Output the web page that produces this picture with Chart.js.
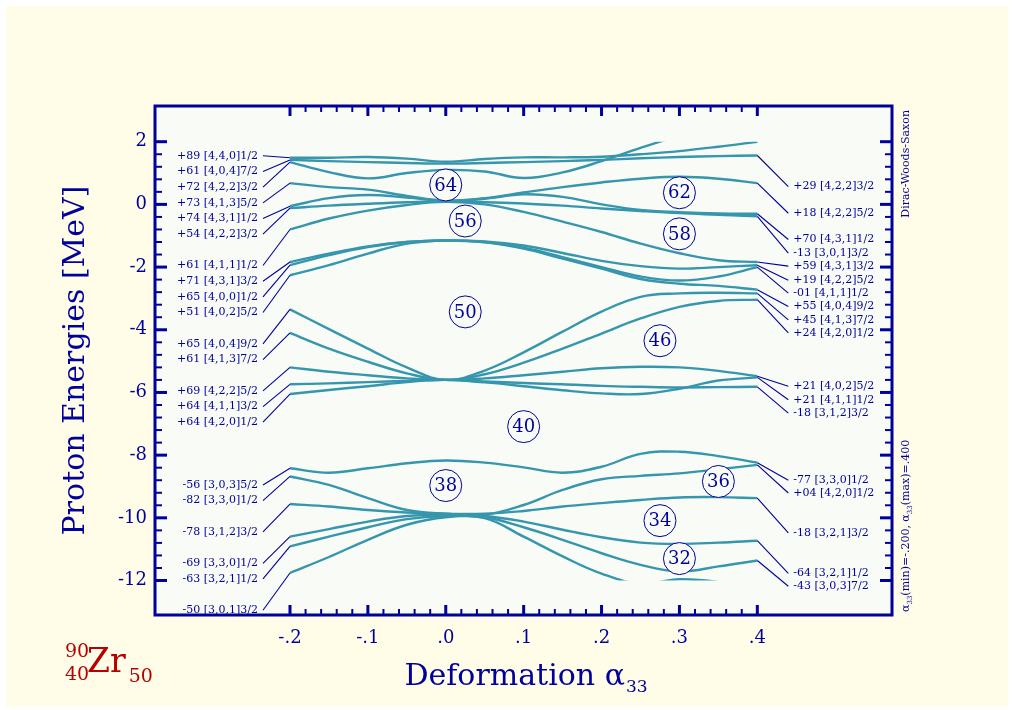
<!DOCTYPE html>
<html>
<head>
<meta charset="utf-8">
<script src="https://cdn.jsdelivr.net/npm/chart.js@4.4.1/dist/chart.umd.min.js"></script>
<style>
html,body{margin:0;padding:0;background:#ffffff;}
canvas{display:block;}
</style>
</head>
<body>
<canvas id="c" width="1012" height="710"></canvas>
<script>
// ---------------- data ----------------
const alpha = [-0.2,-0.15,-0.1,-0.05,0,0.05,0.1,0.15,0.2,0.25,0.3,0.35,0.4];

const xTickValues = [-0.2,-0.1,0,0.1,0.2,0.3,0.4];
const xTickLabels = ['-.2','-.1','.0','.1','.2','.3','.4'];
const yTickValues = [2,0,-2,-4,-6,-8,-10,-12];
const yTickLabels = ['2','0','-2','-4','-6','-8','-10','-12'];

// single-particle proton levels (MeV) at each alpha33
const lvT1  = [1.49,1.49,1.51,1.46,1.36,1.45,1.50,1.50,1.52,1.60,1.70,1.84,2.00];
const lvT2  = [1.42,1.38,1.35,1.32,1.30,1.32,1.35,1.38,1.42,1.47,1.51,1.54,1.56];
const lvT3  = [1.35,1.03,0.83,1.00,1.10,1.05,0.84,1.02,1.38,1.80,2.20,2.60,3.00];
const lvL4  = [0.68,0.55,0.47,0.27,0.12,0.20,0.38,0.55,0.70,0.82,0.88,0.82,0.68];
const lvL5  = [-0.06,0.20,0.30,0.22,0.12,0.18,0.32,0.24,0.00,-0.18,-0.25,-0.29,-0.30];
const lvL6  = [-0.12,-0.04,0.02,0.07,0.10,0.07,0.03,-0.04,-0.13,-0.21,-0.28,-0.33,-0.38];
const lvL7  = [-0.80,-0.45,-0.20,-0.02,0.08,0.00,-0.24,-0.55,-0.88,-1.25,-1.56,-1.78,-1.84];
const lvL8  = [-1.84,-1.57,-1.34,-1.20,-1.15,-1.18,-1.31,-1.55,-1.80,-1.97,-2.05,-2.00,-1.94];
const lvL9  = [-1.94,-1.62,-1.36,-1.20,-1.15,-1.20,-1.38,-1.68,-2.00,-2.30,-2.43,-2.30,-2.00];
const lvL10 = [-2.26,-1.94,-1.57,-1.25,-1.15,-1.21,-1.41,-1.73,-2.05,-2.38,-2.53,-2.60,-2.72];
const lvL11 = [-3.35,-3.98,-4.60,-5.20,-5.60,-5.30,-4.72,-4.06,-3.42,-2.95,-2.84,-2.82,-2.84];
const lvL12 = [-4.10,-4.60,-5.02,-5.39,-5.60,-5.42,-5.05,-4.60,-4.12,-3.64,-3.27,-3.08,-3.04];
const lvL13 = [-5.20,-5.34,-5.45,-5.55,-5.60,-5.55,-5.45,-5.34,-5.23,-5.18,-5.20,-5.31,-5.48];
const lvL14 = [-5.74,-5.71,-5.67,-5.63,-5.60,-5.65,-5.70,-5.74,-5.79,-5.82,-5.84,-5.83,-5.82];
const lvL15 = [-6.05,-5.92,-5.80,-5.67,-5.60,-5.68,-5.80,-5.93,-6.03,-6.05,-5.88,-5.62,-5.52];
const lvA   = [-8.42,-8.56,-8.42,-8.26,-8.17,-8.24,-8.39,-8.56,-8.37,-7.96,-7.89,-8.03,-8.24];
const lvB   = [-8.68,-8.95,-9.37,-9.75,-9.87,-9.90,-9.59,-9.11,-8.77,-8.66,-8.58,-8.45,-8.31];
const lvC   = [-9.56,-9.64,-9.75,-9.83,-9.87,-9.87,-9.78,-9.64,-9.53,-9.43,-9.35,-9.34,-9.37];
const lvD   = [-10.60,-10.36,-10.12,-9.94,-9.90,-9.94,-10.12,-10.38,-10.62,-10.79,-10.83,-10.79,-10.73];
const lvE   = [-10.91,-10.60,-10.30,-10.04,-9.94,-9.98,-10.30,-10.70,-11.13,-11.50,-11.71,-11.55,-11.36];
const lvF   = [-11.76,-11.25,-10.70,-10.22,-9.98,-10.01,-10.60,-11.23,-11.78,-12.10,-11.96,-12.05,-12.30];

const levels = [lvT1,lvT2,lvT3,lvL4,lvL5,lvL6,lvL7,lvL8,lvL9,lvL10,lvL11,lvL12,lvL13,lvL14,lvL15,lvA,lvB,lvC,lvD,lvE,lvF];

const leftTags = ['+89 [4,4,0]1/2','+61 [4,0,4]7/2','+72 [4,2,2]3/2','+73 [4,1,3]5/2','+74 [4,3,1]1/2','+54 [4,2,2]3/2',
  '+61 [4,1,1]1/2','+71 [4,3,1]3/2','+65 [4,0,0]1/2','+51 [4,0,2]5/2','+65 [4,0,4]9/2','+61 [4,1,3]7/2',
  '+69 [4,2,2]5/2','+64 [4,1,1]3/2','+64 [4,2,0]1/2','-56 [3,0,3]5/2','-82 [3,3,0]1/2','-78 [3,1,2]3/2',
  '-69 [3,3,0]1/2','-63 [3,2,1]1/2','-50 [3,0,1]3/2'];
const rightTags = [null,'+29 [4,2,2]3/2',null,'+18 [4,2,2]5/2','+70 [4,3,1]1/2','-13 [3,0,1]3/2','+59 [4,3,1]3/2',
  '+19 [4,2,2]5/2','-01 [4,1,1]1/2','+55 [4,0,4]9/2','+45 [4,1,3]7/2','+24 [4,2,0]1/2','+21 [4,0,2]5/2',
  '-18 [3,1,2]3/2','+21 [4,1,1]1/2','-77 [3,3,0]1/2','+04 [4,2,0]1/2','-18 [3,2,1]3/2','-64 [3,2,1]1/2','-43 [3,0,3]7/2',null];
// energies (MeV) at which the level tags are written
const leftSlots = [1.55,1.05,0.55,0.05,-0.45,-0.95,-1.95,-2.45,-2.95,-3.45,-4.45,-4.95,-5.95,-6.45,-6.95,-8.95,-9.45,-10.45,-11.45,-11.95,-12.95];
const rightSlots = [null,0.567,null,-0.283,-1.12,-1.558,-1.97,-2.42,-2.833,-3.258,-3.683,-4.10,-5.80,-6.658,-6.233,-8.80,-9.208,-10.48,-11.77,-12.183,null];

const magicNumbers = ['64','56','62','58','50','46','40','38','36','34','32'];
const magicAlpha   = [0.0,0.025,0.30,0.30,0.025,0.275,0.10,0.0,0.35,0.275,0.30];
const magicEnergy  = [0.62,-0.53,0.37,-0.94,-3.43,-4.35,-7.09,-8.97,-8.84,-10.09,-11.30];

// ---------------- style ----------------
const NAVY = '#00009c';
const LINE = '#3596ad';
const RED = '#b80000';
const SERIF = '"DejaVu Serif", "Liberation Serif", serif';
const XMIN = -0.3733, XMAX = 0.5729, YMIN = -13.10, YMAX = 3.139;
const EMAX_DRAW = 2, EMIN_DRAW = -12;

const decor = {
  id: 'decor',
  beforeDraw(chart) {
    const c = chart.ctx, a = chart.chartArea;
    c.save();
    c.fillStyle = '#ffffff';
    c.fillRect(0, 0, chart.width, chart.height);
    c.fillStyle = '#fffde8';
    c.fillRect(6, 6, chart.width - 10, chart.height - 9);
    c.fillStyle = '#f9fcf6';
    c.fillRect(a.left, a.top, a.right - a.left, a.bottom - a.top);
    c.restore();
  },
  beforeDatasetsDraw(chart) {
    const c = chart.ctx, a = chart.chartArea, ys = chart.scales.y;
    const t = ys.getPixelForValue(EMAX_DRAW), b = ys.getPixelForValue(EMIN_DRAW);
    c.save();
    c.beginPath();
    c.rect(a.left, t, a.right - a.left, b - t);
    c.clip();
  },
  afterDatasetsDraw(chart) {
    const c = chart.ctx, a = chart.chartArea, xs = chart.scales.x, ys = chart.scales.y;
    c.restore();
    const xL = xs.getPixelForValue(alpha[0]);
    const xR = xs.getPixelForValue(alpha[alpha.length - 1]);
    c.save();
    // connectors + tags
    c.strokeStyle = NAVY; c.lineWidth = 1.1; c.fillStyle = NAVY;
    c.font = '11px ' + SERIF; c.textBaseline = 'middle';
    levels.forEach((lv, i) => {
      const y0 = ys.getPixelForValue(lv[0]);
      const ys0 = ys.getPixelForValue(leftSlots[i]);
      c.beginPath(); c.moveTo(xL - 27, ys0); c.lineTo(xL, y0); c.stroke();
      c.textAlign = 'right';
      c.fillText(leftTags[i], xL - 32, ys0);
      if (rightTags[i] !== null) {
        const y1 = ys.getPixelForValue(lv[lv.length - 1]);
        const ys1 = ys.getPixelForValue(rightSlots[i]);
        c.beginPath(); c.moveTo(xR, y1); c.lineTo(xR + 31, ys1); c.stroke();
        c.textAlign = 'left';
        c.fillText(rightTags[i], xR + 36, ys1);
      }
    });
    // magic numbers
    c.font = '18px ' + SERIF; c.textAlign = 'center'; c.textBaseline = 'middle';
    c.lineWidth = 1;
    magicNumbers.forEach((m, i) => {
      const px = xs.getPixelForValue(magicAlpha[i]), py = ys.getPixelForValue(magicEnergy[i]);
      c.beginPath(); c.arc(px, py, 16, 0, Math.PI * 2);
      c.fillStyle = '#f9fcf6'; c.fill();
      c.stroke();
      c.fillStyle = NAVY;
      c.fillText(m, px, py + 1);
    });
    // ticks
    c.strokeStyle = NAVY;
    for (let k = 0; k <= 35; k++) {
      const e = EMIN_DRAW + k * 0.4;
      const major = k % 5 === 0;
      const py = ys.getPixelForValue(e);
      c.lineWidth = major ? 3 : 2;
      const len = major ? 12 : 7;
      c.beginPath(); c.moveTo(a.left, py); c.lineTo(a.left + len, py); c.stroke();
      c.beginPath(); c.moveTo(a.right, py); c.lineTo(a.right - len, py); c.stroke();
    }
    for (let k = 0; k <= 30; k++) {
      const al = alpha[0] + k * 0.02;
      const major = k % 5 === 0;
      const px = xs.getPixelForValue(al);
      c.lineWidth = major ? 3 : 2;
      const len = major ? 10 : 6;
      c.beginPath(); c.moveTo(px, a.top); c.lineTo(px, a.top + len); c.stroke();
      c.beginPath(); c.moveTo(px, a.bottom); c.lineTo(px, a.bottom - len); c.stroke();
    }
    // frame
    c.lineWidth = 3;
    c.strokeRect(a.left, a.top, a.right - a.left, a.bottom - a.top);
    // y title
    c.fillStyle = NAVY;
    c.save();
    c.translate(76, (a.top + a.bottom) / 2);
    c.rotate(-Math.PI / 2);
    c.font = '30px ' + SERIF; c.textAlign = 'center'; c.textBaseline = 'middle';
    c.fillText('Proton Energies [MeV]', 0, 0);
    c.restore();
    // x title with subscript
    c.textAlign = 'left'; c.textBaseline = 'alphabetic';
    const main = 'Deformation \u03B1';
    c.font = '30px ' + SERIF;
    const w1 = c.measureText(main).width;
    c.font = '17px ' + SERIF;
    const w2 = c.measureText('33').width;
    const x0 = (a.left + a.right) / 2 - (w1 + w2) / 2 + 2;
    c.font = '30px ' + SERIF;
    c.fillText(main, x0, 685);
    c.font = '17px ' + SERIF;
    c.fillText('33', x0 + w1 + 1, 692);
    // side notes
    c.save();
    c.translate(909, a.top + 4);
    c.rotate(-Math.PI / 2);
    c.font = '11px ' + SERIF; c.textAlign = 'right'; c.textBaseline = 'alphabetic';
    c.fillText('Dirac-Woods-Saxon', 0, 0);
    c.restore();
    c.save();
    c.translate(909, a.bottom - 3);
    c.rotate(-Math.PI / 2);
    c.textAlign = 'left'; c.textBaseline = 'alphabetic';
    let xx = 0;
    const parts = [['\u03B1',11,0],['33',7,3],['(min)=-.200, ',11,0],['\u03B1',11,0],['33',7,3],['(max)=.400',11,0]];
    parts.forEach(p => { c.font = p[1] + 'px ' + SERIF; c.fillText(p[0], xx, p[2]); xx += c.measureText(p[0]).width; });
    c.restore();
    // nucleus label
    c.fillStyle = RED; c.textAlign = 'left'; c.textBaseline = 'alphabetic';
    c.font = '19px ' + SERIF;
    c.fillText('90', 65, 657);
    c.fillText('40', 65, 680);
    c.font = '33px ' + SERIF;
    c.fillText('Zr', 87, 672);
    const wz = c.measureText('Zr').width;
    c.font = '19px ' + SERIF;
    c.fillText('50', 87 + wz + 3, 682);
    c.restore();
  }
};

const datasets = levels.map(lv => ({
  data: lv.map((e, i) => ({ x: alpha[i], y: e })),
  borderColor: LINE,
  borderWidth: 2.4,
  pointRadius: 0,
  fill: false,
  tension: 0.4
}));

new Chart(document.getElementById('c').getContext('2d'), {
  type: 'line',
  data: { datasets },
  options: {
    responsive: false,
    animation: false,
    devicePixelRatio: 1,
    layout: { padding: { left: 0, top: 106, right: 120, bottom: 0 } },
    plugins: { legend: { display: false }, tooltip: { enabled: false } },
    scales: {
      x: {
        type: 'linear', min: XMIN, max: XMAX,
        grid: { display: false, drawTicks: false }, border: { display: false },
        afterBuildTicks: s => { s.ticks = xTickValues.map(v => ({ value: v })); },
        afterFit: s => { s.height = 95; },
        ticks: {
          autoSkip: false, maxRotation: 0, minRotation: 0, padding: 13, color: NAVY,
          font: { family: SERIF, size: 18 },
          callback: v => xTickLabels[xTickValues.findIndex(t => Math.abs(t - v) < 1e-9)]
        }
      },
      y: {
        type: 'linear', min: YMIN, max: YMAX,
        grid: { display: false, drawTicks: false }, border: { display: false },
        afterBuildTicks: s => { s.ticks = yTickValues.map(v => ({ value: v })); },
        afterFit: s => { s.width = 155; },
        ticks: {
          autoSkip: false, padding: 8, color: NAVY,
          font: { family: SERIF, size: 18 },
          callback: v => yTickLabels[yTickValues.findIndex(t => Math.abs(t - v) < 1e-9)]
        }
      }
    }
  },
  plugins: [decor]
});
</script>
</body>
</html>
